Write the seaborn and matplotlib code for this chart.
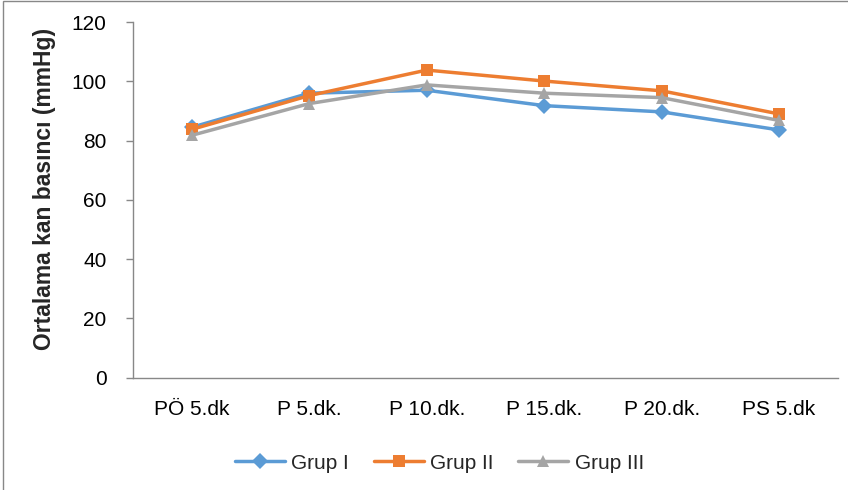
import pandas as pd
import matplotlib.pyplot as plt
import seaborn as sns
from matplotlib.patches import Rectangle

# time points and group means (mmHg)
zaman = ['PÖ 5.dk', 'P 5.dk.', 'P 10.dk.', 'P 15.dk.', 'P 20.dk.', 'PS 5.dk']
grup1 = [84.5, 96.0, 97.0, 91.8, 89.7, 83.6]
grup2 = [83.8, 95.2, 103.8, 100.1, 96.8, 89.0]
grup3 = [81.8, 92.5, 98.8, 96.0, 94.5, 86.8]
gruplar = ['Grup I', 'Grup II', 'Grup III']

rows = []
for name, vals in zip(gruplar, [grup1, grup2, grup3]):
    for i, v in enumerate(vals):
        rows.append({'x': i, 'Zaman': zaman[i], 'Grup': name, 'Deger': v})
df = pd.DataFrame(rows)

sns.set_style('white')
plt.rcParams['font.family'] = ['Liberation Sans', 'DejaVu Sans']

fig = plt.figure(figsize=(8.48, 4.90), dpi=100)
ax = fig.add_axes([0.157, 0.229, 0.831, 0.726])

palette = {'Grup I': '#5B9BD5', 'Grup II': '#ED7D31', 'Grup III': '#A5A5A5'}
markers = {'Grup I': 'D', 'Grup II': 's', 'Grup III': '^'}
sns.lineplot(data=df, x='x', y='Deger', hue='Grup', style='Grup',
             palette=palette, markers=markers, dashes=False, sort=False,
             linewidth=2.5, markersize=8, markeredgewidth=0, ax=ax)

ax.set_xlim(-0.5, 5.5)
ax.set_ylim(0, 120)
ax.set_yticks(range(0, 121, 20))
ax.set_xticks(range(len(zaman)))
ax.set_xticklabels(zaman)
ax.tick_params(axis='both', labelsize=15, colors='black')
ax.tick_params(axis='y', length=5, color='#888888', width=1, direction='out', left=True, pad=14)
ax.tick_params(axis='x', length=0, pad=16)
ax.set_xlabel('')
ax.set_ylabel('Ortalama kan basıncı (mmHg)', fontsize=16.5, fontweight='bold')
ax.yaxis.set_label_coords(-0.109, 0.53)

for side in ['top', 'right']:
    ax.spines[side].set_visible(False)
for side in ['left', 'bottom']:
    ax.spines[side].set_color('#888888')
    ax.spines[side].set_linewidth(1)

handles, labels = ax.get_legend_handles_labels()
ax.legend(handles, labels, loc='center', bbox_to_anchor=(0.518, 0.055),
          bbox_transform=fig.transFigure, ncol=3, frameon=False, fontsize=15,
          handlelength=2.4, columnspacing=1.2, handletextpad=0.3)

# outer frame, only top and left edges fall inside the picture
fig.patches.append(Rectangle((0.003, -0.1), 1.2, 1.097, transform=fig.transFigure,
                             fill=False, edgecolor='#888888', linewidth=1))

fig.savefig('out.png', dpi=100)
